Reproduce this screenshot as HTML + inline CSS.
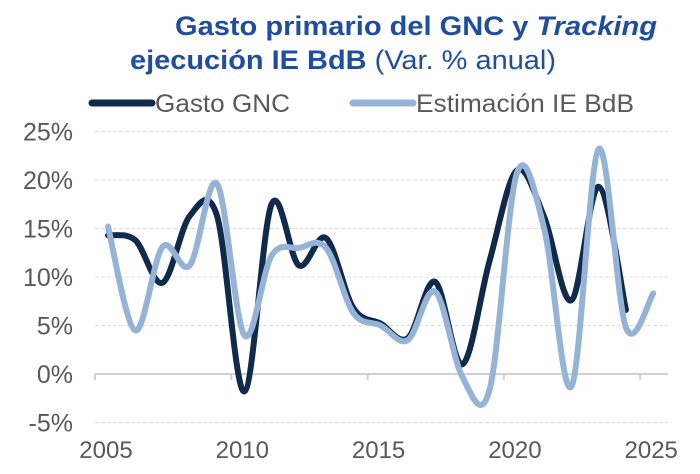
<!DOCTYPE html>
<html><head><meta charset="utf-8"><style>
body{margin:0;background:#fff;width:700px;height:469px;overflow:hidden;font-family:"Liberation Sans",Arial,sans-serif}
</style></head><body>
<svg id="s" width="700" height="469" xmlns="http://www.w3.org/2000/svg" font-family="Liberation Sans, Arial, sans-serif">
<text x="416" y="35" text-anchor="middle" font-size="27" font-weight="bold" fill="#1f4e9f" textLength="482" lengthAdjust="spacingAndGlyphs">Gasto primario del GNC y <tspan font-style="italic">Tracking</tspan></text>
<text x="343" y="69" text-anchor="middle" font-size="27" fill="#1f4e9f" textLength="426" lengthAdjust="spacingAndGlyphs"><tspan font-weight="bold">ejecución IE BdB</tspan> (Var. % anual)</text>
<line x1="92" y1="103" x2="152" y2="103" stroke="#0f2a4a" stroke-width="7" stroke-linecap="round"/>
<text x="155" y="112" font-size="25" fill="#595959" textLength="135" lengthAdjust="spacingAndGlyphs">Gasto GNC</text>
<line x1="353" y1="103" x2="413" y2="103" stroke="#95b3d7" stroke-width="7" stroke-linecap="round"/>
<text x="416" y="112" font-size="25" fill="#595959" textLength="218" lengthAdjust="spacingAndGlyphs">Estimación IE BdB</text>
<g id="grid" stroke="#dcdcdc" stroke-width="1" stroke-dasharray="4,2"></g>
<g font-size="25" fill="#595959" text-anchor="end" id="yl"></g>
<line x1="95" y1="374" x2="668" y2="374" stroke="#d0d0d0" stroke-width="2"/>
<g stroke="#d0d0d0" stroke-width="2" id="tk"></g>
<g font-size="24" fill="#595959" text-anchor="middle" id="xl"></g>
<path id="d" fill="none" stroke="#0f2a4a" stroke-width="6" stroke-linejoin="round" stroke-linecap="round"/>
<path id="l" fill="none" stroke="#95b3d7" stroke-width="6" stroke-linejoin="round" stroke-linecap="round"/>
</svg>
<script>
var Y=function(v){return 374-v*9.7};var X=function(i){return 108+i*27.26};
var g=document.getElementById('grid'),yl=document.getElementById('yl'),tk=document.getElementById('tk'),xl=document.getElementById('xl');
var ns='http://www.w3.org/2000/svg';
[25,20,15,10,5,-5].forEach(function(v){var l=document.createElementNS(ns,'line');l.setAttribute('x1',95);l.setAttribute('x2',668);l.setAttribute('y1',Y(v));l.setAttribute('y2',Y(v));g.appendChild(l);});
[25,20,15,10,5,0,-5].forEach(function(v){var t=document.createElementNS(ns,'text');t.setAttribute('x',73);t.setAttribute('y',Y(v)+9);t.textContent=v+'%';yl.appendChild(t);});
for(var k=0;k<5;k++){var x=95+k*136.3;var l=document.createElementNS(ns,'line');l.setAttribute('x1',x);l.setAttribute('x2',x);l.setAttribute('y1',374);l.setAttribute('y2',380);tk.appendChild(l);
var t=document.createElementNS(ns,'text');t.setAttribute('x',108+k*136.3-2);t.setAttribute('y',458);t.textContent=2005+k*5;xl.appendChild(t);}
function path(vals){var p=vals.map(function(v,i){return [X(i),Y(v)]});var s='M'+p[0][0]+','+p[0][1];
for(var i=0;i<p.length-1;i++){var p0=p[i-1]||p[i],p1=p[i],p2=p[i+1],p3=p[i+2]||p2;
s+=' C'+(p1[0]+(p2[0]-p0[0])/6)+','+(p1[1]+(p2[1]-p0[1])/6)+' '+(p2[0]-(p3[0]-p1[0])/6)+','+(p2[1]-(p3[1]-p1[1])/6)+' '+p2[0]+','+p2[1];}return s;}
var d=[14.3,13.8,9.4,16.3,16.3,-1.8,17.5,11.2,14,6.8,5.2,3.7,9.5,1,11.7,21,16.2,7.6,19.3,6.6];
var li=[15.2,4.5,13.1,11.2,19.6,4,12.2,13,13,6.3,5,3.5,8.5,-0.3,-1.6,20.7,15,-1.3,23.2,4.8,8.3];
document.getElementById('d').setAttribute('d',path(d));
document.getElementById('l').setAttribute('d',path(li));
</script>
</body></html>
